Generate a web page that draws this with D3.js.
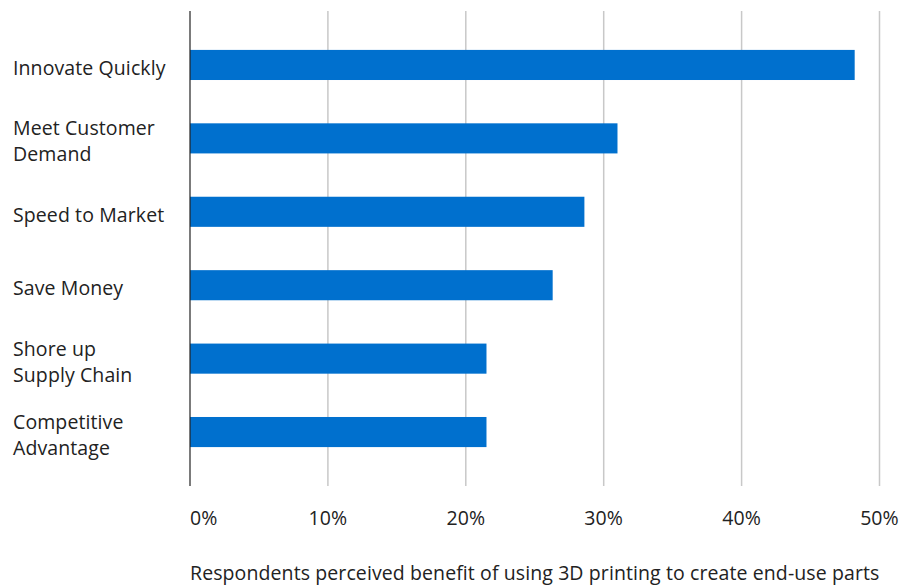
<!DOCTYPE html>
<html>
<head>
<meta charset="utf-8">
<script src="https://cdn.jsdelivr.net/npm/d3@7"></script>
<style>
  html, body { margin: 0; padding: 0; background: #fff; }
  svg text { font-family: "Open Sans", Lato, sans-serif; fill: #222; letter-spacing: 0.1px; }
</style>
</head>
<body>
<div id="chart"></div>
<script>
const categories = [
  ['Innovate Quickly'],
  ['Meet Customer', 'Demand'],
  ['Speed to Market'],
  ['Save Money'],
  ['Shore up', 'Supply Chain'],
  ['Competitive', 'Advantage'],
];
const values = [48.2, 31.0, 28.6, 26.3, 21.5, 21.5];
const tickValues = [0, 10, 20, 30, 40, 50];
const axisTitle = 'Respondents perceived benefit of using 3D printing to create end-use parts';

const W = 915, H = 586;
const plotLeft = 190, plotRight = 879.5, plotTop = 11, plotBottom = 486;
const fontSize = 19.5;

const svg = d3.select('#chart').append('svg')
  .attr('width', W)
  .attr('height', H);

const x = d3.scaleLinear().domain([0, 50]).range([plotLeft, plotRight]);
const y = d3.scaleBand()
  .domain(d3.range(categories.length))
  .range([plotTop, plotBottom])
  .paddingInner(0.59)
  .paddingOuter(0.53);

// gridlines
svg.append('g')
  .selectAll('line')
  .data(tickValues.slice(1))
  .enter().append('line')
  .attr('x1', d => x(d)).attr('x2', d => x(d))
  .attr('y1', plotTop).attr('y2', plotBottom)
  .attr('stroke', '#c8c8c8')
  .attr('stroke-width', 1.5);

// bars
svg.append('g')
  .selectAll('rect')
  .data(values)
  .enter().append('rect')
  .attr('x', x(0))
  .attr('y', (d, i) => y(i))
  .attr('width', d => x(d) - x(0))
  .attr('height', y.bandwidth())
  .attr('fill', '#0070ce');

// y axis line
svg.append('line')
  .attr('x1', x(0)).attr('x2', x(0))
  .attr('y1', plotTop).attr('y2', plotBottom)
  .attr('stroke', '#222')
  .attr('stroke-width', 1.2);

// category labels
const lineH = 26;
svg.append('g')
  .selectAll('text')
  .data(categories)
  .enter().append('text')
  .attr('x', 13)
  .attr('font-size', fontSize)
  .each(function (lines, i) {
    const cy = y(i) + y.bandwidth() / 2;
    const y0 = cy - (lines.length - 1) * lineH / 2 + 10;
    d3.select(this).selectAll('tspan')
      .data(lines)
      .enter().append('tspan')
      .attr('x', 13)
      .attr('y', (l, j) => y0 + j * lineH)
      .text(l => l);
  });

// tick labels
svg.append('g')
  .selectAll('text')
  .data(tickValues)
  .enter().append('text')
  .attr('x', d => x(d))
  .attr('y', 525)
  .attr('text-anchor', d => d === 0 ? 'start' : 'middle')
  .attr('font-size', fontSize)
  .text(d => d + '%');

// axis title
svg.append('text')
  .attr('x', x(0))
  .attr('y', 580)
  .attr('font-size', fontSize)
  .text(axisTitle);
</script>
</body>
</html>
